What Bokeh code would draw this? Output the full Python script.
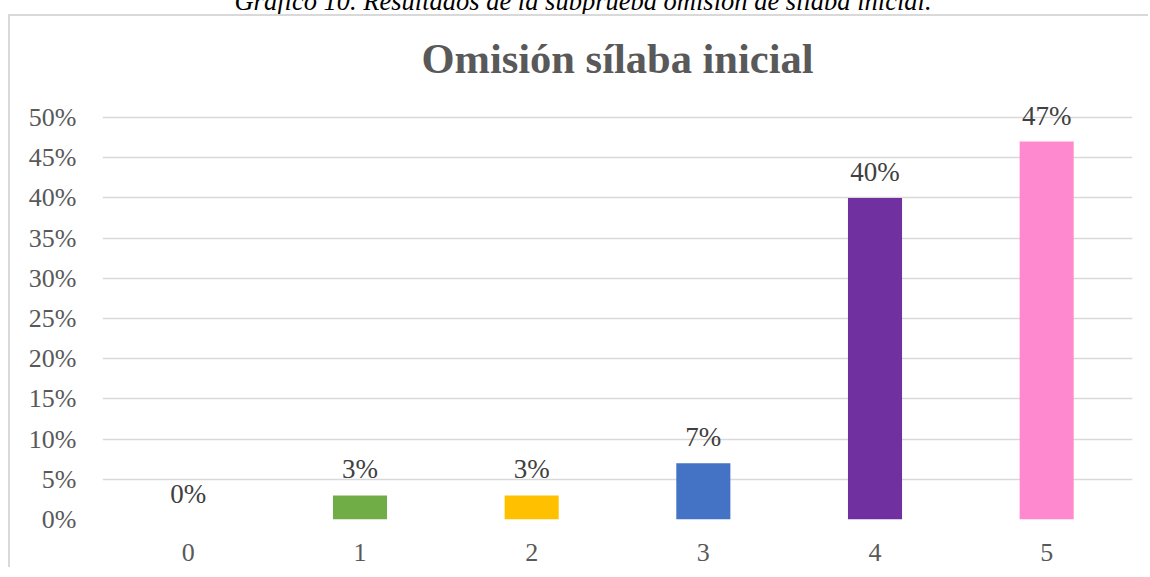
from bokeh.plotting import figure
from bokeh.models import (ColumnDataSource, FixedTicker, NumeralTickFormatter,
                          Div, LabelSet, FactorRange, Range1d)
from bokeh.layouts import column
from bokeh.embed import file_html
from bokeh.resources import INLINE

# ---- data ----
categories = ["0", "1", "2", "3", "4", "5"]
values = [0.0, 0.03, 0.03, 0.07, 0.40, 0.47]
value_labels = ["0%", "3%", "3%", "7%", "40%", "47%"]
bar_colors = ["#4472C4", "#70AD47", "#FFC000", "#4472C4", "#7030A0", "#FF89CE"]
y_ticks = [0.0, 0.05, 0.10, 0.15, 0.20, 0.25, 0.30, 0.35, 0.40, 0.45, 0.50]
title_text = "Omisión sílaba inicial"
caption_text = "Gráfico 10. Resultados de la subprueba omisión de sílaba inicial."

FONT = "Liberation Serif"

source = ColumnDataSource(dict(cat=categories, val=values, lab=value_labels, color=bar_colors))

# frame extends a little above the 50% line so the value labels are not clipped
FRAME_H = 429
Y_END = 0.5 * FRAME_H / 402

p = figure(x_range=FactorRange(factors=categories, range_padding=0),
           y_range=Range1d(0, Y_END),
           width=1140, height=553,
           min_border_left=92, min_border_right=18,
           min_border_top=74, min_border_bottom=50,
           output_backend="svg", toolbar_location=None,
           styles={"border-top": "2px solid #d9d9d9",
                   "border-left": "2px solid #d9d9d9",
                   "margin-top": "-2px"})

p.vbar(x="cat", top="val", width=0.315, fill_color="color", line_color=None,
       source=source)

labels = LabelSet(x="cat", y="val", text="lab", source=source,
                  text_align="center", text_baseline="alphabetic",
                  y_offset=17, text_font=FONT, text_font_size="27px",
                  text_color="#404040")
p.add_layout(labels)

p.title.text = title_text
p.title.align = "center"
p.title.text_font = FONT
p.title.text_font_size = "42.5px"
p.title.text_font_style = "bold"
p.title.text_color = "#595959"
p.title.standoff = 18
p.title.offset = 11

p.outline_line_color = None
p.background_fill_color = "white"
p.border_fill_color = "white"

p.xgrid.grid_line_color = None
p.ygrid.grid_line_color = "#d9d9d9"
p.ygrid.grid_line_width = 1.5

p.yaxis.ticker = FixedTicker(ticks=y_ticks)
p.yaxis.formatter = NumeralTickFormatter(format="0%")

for ax in (p.xaxis, p.yaxis):
    ax.axis_line_color = None
    ax.major_tick_line_color = None
    ax.minor_tick_line_color = None
    ax.major_tick_out = 0
    ax.major_tick_in = 0
    ax.minor_tick_out = 0
    ax.major_label_text_font = FONT
    ax.major_label_text_font_size = "26px"
    ax.major_label_text_color = "#595959"

p.yaxis.major_label_standoff = 26
p.xaxis.major_label_standoff = 24

caption_html = (
    '<div style="position:absolute; left:0; top:-17px; width:1140px; '
    'text-align:center; white-space:nowrap; font-family:\'Liberation Serif\'; '
    'font-style:italic; font-size:26.5px; line-height:26px; color:#000;">'
    + caption_text + '</div>'
)
caption = Div(text=caption_html, width=1140, height=6,
              styles={"overflow": "visible", "position": "relative"})

layout = column(caption, p, spacing=0, styles={"margin-left": "8px"})

open("out.html", "w").write(file_html(layout, INLINE))
